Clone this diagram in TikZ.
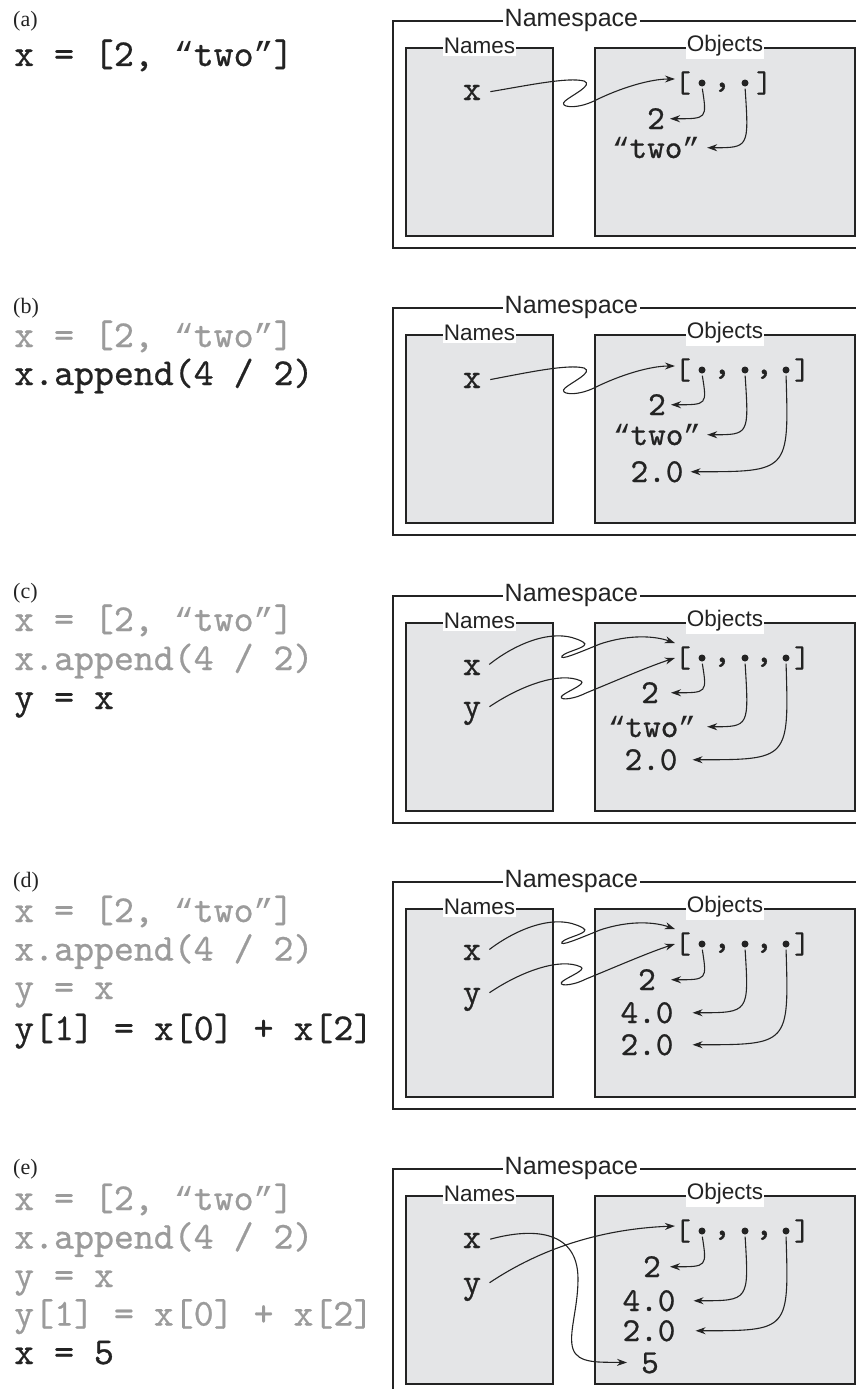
\documentclass[tikz,border=0pt]{standalone}
\usepackage{fontspec}
\newfontfamily\sansfam{Liberation Sans}
\newfontfamily\serfam{Liberation Serif}
\newfontfamily\monofam{lmmono10-regular.otf}[FakeBold=0.7]
\newfontfamily\qfam[Scale=0.875]{Liberation Mono}
\newcommand{\qopen}{{\qfam “}}
\newcommand{\qclose}{{\qfam ”}}
\usetikzlibrary{arrows.meta}
\definecolor{boxgray}{RGB}{228,229,231}
\definecolor{codegray}{RGB}{155,155,155}
\definecolor{ink}{RGB}{35,35,35}
\tikzset{
  nsbox/.style={draw=ink, line width=1.2pt, minimum width=600pt, minimum height=227pt, inner sep=0pt},
  namesbox/.style={draw=ink, fill=boxgray, line width=1.2pt, minimum width=147pt, minimum height=188pt, inner sep=0pt},
  objsbox/.style={draw=ink, fill=boxgray, line width=1.2pt, minimum width=260pt, minimum height=188pt, inner sep=0pt},
  nslab/.style={fill=white, inner xsep=1.5pt, inner ysep=2pt, font=\sansfam\fontsize{25}{25}\selectfont, text=ink},
  boxlab/.style={fill=white, inner xsep=1pt, inner ysep=3pt, font=\sansfam\fontsize{22.5}{22.5}\selectfont, text=ink},
  panellab/.style={anchor=base west, inner sep=0pt, font=\serfam\fontsize{22}{22}\selectfont, text=ink},
  codeline/.style={anchor=base west, inner sep=0pt, font=\monofam\fontsize{38}{38}\selectfont, text=ink},
  oldcode/.style={codeline, text=codegray},
  varname/.style={anchor=base, inner sep=4pt, font=\monofam\fontsize{35}{35}\selectfont, text=ink, text height=15pt, text depth=0pt},
  valnode/.style={anchor=base, inner xsep=2pt, inner ysep=0pt, font=\monofam\fontsize{33.5}{33.5}\selectfont, text=ink, text height=20.5pt, text depth=0pt},
  brk/.style={anchor=center, inner sep=0pt, font=\monofam\fontsize{30}{30}\selectfont, text=ink},
  cma/.style={anchor=base, inner sep=0pt, font=\monofam\fontsize{35}{35}\selectfont, text=ink},
  bulletdot/.style={circle, fill=ink, minimum size=7pt, inner sep=0pt},
  ptr/.style={-{Stealth[length=10pt,width=7pt]}, line width=1.1pt, draw=ink},
}
\newcommand{\nsframe}[1]{%
  \node[nsbox] (#1-ns) at (693,113.5) {};
  \node[namesbox] (#1-names) at (479.5,121) {};
  \node[objsbox] (#1-objs) at (725,121) {};
  \node[nslab] (#1-nslab) at ([xshift=179pt]#1-ns.north west) {Namespace};
  \node[boxlab] (#1-nameslab) at ([yshift=2pt]#1-names.north) {Names};
  \node[boxlab] (#1-objslab) at ([yshift=2pt]#1-objs.north) {Objects};
}
\newcommand{\listtwo}[1]{%
  \node[brk] (#1-lb) at (683,62) {[};
  \node[bulletdot] (#1-b1) at (702,62) {};
  \node[cma] (#1-c1) at (722,66) {,};
  \node[bulletdot] (#1-b2) at (745,62) {};
  \node[brk] (#1-rb) at (764,62) {]};
}
\newcommand{\listthree}[1]{%
  \node[brk] (#1-lb) at (683,62) {[};
  \node[bulletdot] (#1-b1) at (702,62) {};
  \node[cma] (#1-c1) at (722,66) {,};
  \node[bulletdot] (#1-b2) at (745,62) {};
  \node[cma] (#1-c2) at (764,66) {,};
  \node[bulletdot] (#1-b3) at (786,62) {};
  \node[brk] (#1-rb) at (802,62) {]};
}
% pointer from a list slot down and left to a value
\newcommand{\bptr}[4]{%
  \draw[ptr, shorten <=2pt, shorten >=#4pt] (#1.south) .. controls ([xshift=#3pt]#1.south |- #2.east) and ([xshift=#3pt]#1.south |- #2.east) .. (#2.east);
}
\begin{document}
\begin{tikzpicture}[x=1pt,y=-1pt]
\useasboundingbox (0,0) rectangle (856,1389);
\clip (0,0) rectangle (856,1389);

% ---------------- (a)
\node[panellab] (a-lab) at (13,27) {(a)};
\node[codeline] (a-l1) at (14,66) {x = [2, \qopen two\qclose]};
\begin{scope}[shift={(0,21)}]
\nsframe{a}
\node[varname] (a-x) at (472,79) {x};
\listtwo{a}
\node[valnode] (a-v1) at (656,108) {2};
\node[valnode] (a-v2) at (656,137) {\qopen two\qclose};
\draw[ptr, shorten <=5pt] (a-x.east) .. controls (530,64) and (568,56) .. (584,60) .. controls (594,64) and (572,74) .. (565,80) .. controls (558,86) and (575,89) .. (594,80) .. controls (620,67) and (650,58) .. ([yshift=4pt]a-lb.west);
\bptr{a-b1}{a-v1}{5}{3}
\bptr{a-b2}{a-v2}{4}{5}
\end{scope}

% ---------------- (b)
\node[panellab] (b-lab) at (13,313) {(b)};
\node[oldcode] (b-l1) at (14,347) {x = [2, \qopen two\qclose]};
\node[codeline] (b-l2) at (14,385) {x.append(4 / 2)};
\begin{scope}[shift={(0,308)}]
\nsframe{b}
\node[varname] (b-x) at (472,80) {x};
\listthree{b}
\node[valnode] (b-v1) at (657,107) {2};
\node[valnode] (b-v2) at (657,137) {\qopen two\qclose};
\node[valnode] (b-v3) at (657,174) {2.0};
\draw[ptr, shorten <=5pt] (b-x.east) .. controls (530,64) and (568,56) .. (584,60) .. controls (594,64) and (572,74) .. (565,80) .. controls (558,86) and (575,89) .. (594,80) .. controls (620,67) and (650,58) .. ([yshift=4pt]b-lb.west);
\bptr{b-b1}{b-v1}{5}{3}
\bptr{b-b2}{b-v2}{4}{4}
\bptr{b-b3}{b-v3}{3}{5}
\end{scope}

% ---------------- (c)
\node[panellab] (c-lab) at (13,598) {(c)};
\node[oldcode] (c-l1) at (14,631) {x = [2, \qopen two\qclose]};
\node[oldcode] (c-l2) at (14,670) {x.append(4 / 2)};
\node[codeline] (c-l3) at (14,709) {y = x};
\begin{scope}[shift={(0,596)}]
\nsframe{c}
\node[varname] (c-x) at (472,79) {x};
\node[varname] (c-y) at (472,121) {y};
\listthree{c}
\node[valnode] (c-v1) at (650,107) {2};
\node[valnode] (c-v2) at (652,141) {\qopen two\qclose};
\node[valnode] (c-v3) at (651,174) {2.0};
\draw[ptr, shorten <=5pt] (c-x.east) .. controls (515,48) and (555,30) .. (583,46) .. controls (592,51) and (566,55) .. (562,60) .. controls (559,65) and (578,57) .. (600,48) .. controls (630,38) and (655,40) .. ([yshift=15pt]c-lb.west);
\draw[ptr, shorten <=5pt] (c-y.east) .. controls (520,90) and (560,75) .. (581,85) .. controls (586,88) and (570,94) .. (563,99) .. controls (556,104) and (570,105) .. (586,97) .. controls (620,83) and (650,70) .. (c-lb.west);
\bptr{c-b1}{c-v1}{5}{10}
\bptr{c-b2}{c-v2}{4}{9}
\bptr{c-b3}{c-v3}{3}{13}
\end{scope}

% ---------------- (d)
\node[panellab] (d-lab) at (13,887) {(d)};
\node[oldcode] (d-l1) at (14,922) {x = [2, \qopen two\qclose]};
\node[oldcode] (d-l2) at (14,960.5) {x.append(4 / 2)};
\node[oldcode] (d-l3) at (14,999) {y = x};
\node[codeline] (d-l4) at (14,1040) {y[1] = x[0] + x[2]};
\begin{scope}[shift={(0,882)}]
\nsframe{d}
\node[varname] (d-x) at (472,78) {x};
\node[varname] (d-y) at (472,121) {y};
\listthree{d}
\node[valnode] (d-v1) at (647,108) {2};
\node[valnode] (d-v2) at (647,141) {4.0};
\node[valnode] (d-v3) at (647,173) {2.0};
\draw[ptr, shorten <=5pt] (d-x.east) .. controls (515,48) and (555,30) .. (583,46) .. controls (592,51) and (566,55) .. (562,60) .. controls (559,65) and (578,57) .. (600,48) .. controls (630,38) and (655,40) .. ([yshift=15pt]d-lb.west);
\draw[ptr, shorten <=5pt] (d-y.east) .. controls (520,90) and (560,75) .. (581,85) .. controls (586,88) and (570,94) .. (563,99) .. controls (556,104) and (570,105) .. (586,97) .. controls (620,83) and (650,70) .. (d-lb.west);
\bptr{d-b1}{d-v1}{5}{13}
\bptr{d-b2}{d-v2}{4}{17}
\bptr{d-b3}{d-v3}{3}{17}
\end{scope}

% ---------------- (e)
\node[panellab] (e-lab) at (13,1174) {(e)};
\node[oldcode] (e-l1) at (14,1210) {x = [2, \qopen two\qclose]};
\node[oldcode] (e-l2) at (14,1248.5) {x.append(4 / 2)};
\node[oldcode] (e-l3) at (14,1287) {y = x};
\node[oldcode] (e-l4) at (14,1325.5) {y[1] = x[0] + x[2]};
\node[codeline] (e-l5) at (14,1364) {x = 5};
\begin{scope}[shift={(0,1169)}]
\nsframe{e}
\node[varname] (e-x) at (472,79) {x};
\node[varname] (e-y) at (472,124) {y};
\listthree{e}
\node[valnode] (e-v1) at (652,108) {2};
\node[valnode] (e-v2) at (649,142) {4.0};
\node[valnode] (e-v3) at (649,172) {2.0};
\node[valnode] (e-v4) at (650,204) {5};
\draw[ptr, shorten <=5pt] (e-y.east) .. controls (540,80) and (600,60) .. ([yshift=5pt]e-lb.west);
\draw[ptr, shorten <=5pt, shorten >=12pt] (e-x.east) .. controls (535,58) and (578,62) .. (578,110) .. controls (578,140) and (568,165) .. (573,180) .. controls (578,195) and (600,193) .. (e-v4.west);
\bptr{e-b1}{e-v1}{5}{7}
\bptr{e-b2}{e-v2}{4}{16}
\bptr{e-b3}{e-v3}{3}{18}
\end{scope}
\end{tikzpicture}
\end{document}
